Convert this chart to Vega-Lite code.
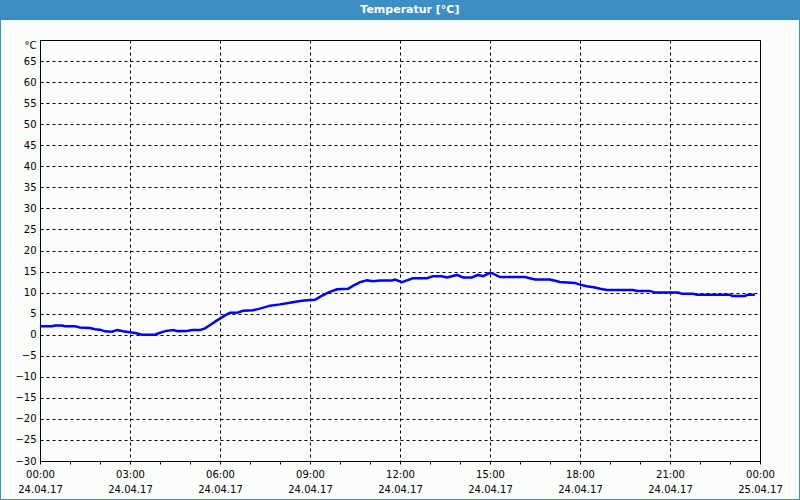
{
  "$schema": "https://vega.github.io/schema/vega-lite/v6.json",
  "width": 720,
  "height": 421,
  "autosize": {"type": "none"},
  "padding": {"left": 40, "top": 40, "right": 40, "bottom": 39},
  "background": "#fbfdfb",
  "config": {
    "view": {"stroke": "#000000", "strokeWidth": 1},
    "font": "DejaVu Sans"
  },
  "data": {
    "values": [
      {"h": 0.0, "t": 2.0}, {"h": 0.4, "t": 2.0}, {"h": 0.5, "t": 2.2}, {"h": 0.73, "t": 2.2},
      {"h": 0.83, "t": 2.0}, {"h": 1.17, "t": 2.0}, {"h": 1.33, "t": 1.7}, {"h": 1.67, "t": 1.6},
      {"h": 1.83, "t": 1.3}, {"h": 2.0, "t": 1.2}, {"h": 2.17, "t": 0.8}, {"h": 2.4, "t": 0.7},
      {"h": 2.57, "t": 1.1}, {"h": 2.77, "t": 0.8}, {"h": 3.0, "t": 0.6}, {"h": 3.17, "t": 0.4},
      {"h": 3.4, "t": 0.0}, {"h": 3.83, "t": 0.0}, {"h": 3.93, "t": 0.3}, {"h": 4.17, "t": 0.85},
      {"h": 4.43, "t": 1.1}, {"h": 4.6, "t": 0.85}, {"h": 4.9, "t": 0.9}, {"h": 5.07, "t": 1.1},
      {"h": 5.33, "t": 1.1}, {"h": 5.5, "t": 1.5}, {"h": 5.67, "t": 2.3}, {"h": 5.9, "t": 3.4},
      {"h": 6.17, "t": 4.6}, {"h": 6.33, "t": 5.2}, {"h": 6.6, "t": 5.3}, {"h": 6.77, "t": 5.7},
      {"h": 7.1, "t": 5.8}, {"h": 7.33, "t": 6.2}, {"h": 7.67, "t": 6.9}, {"h": 8.0, "t": 7.2},
      {"h": 8.33, "t": 7.6}, {"h": 8.67, "t": 8.0}, {"h": 8.9, "t": 8.2}, {"h": 9.17, "t": 8.3},
      {"h": 9.33, "t": 9.0}, {"h": 9.6, "t": 10.0}, {"h": 9.9, "t": 10.8}, {"h": 10.27, "t": 10.9},
      {"h": 10.43, "t": 11.6}, {"h": 10.67, "t": 12.5}, {"h": 10.9, "t": 12.9}, {"h": 11.1, "t": 12.7},
      {"h": 11.33, "t": 12.9}, {"h": 11.73, "t": 12.9}, {"h": 11.83, "t": 13.1}, {"h": 12.07, "t": 12.5},
      {"h": 12.23, "t": 12.9}, {"h": 12.43, "t": 13.4}, {"h": 12.9, "t": 13.4}, {"h": 13.1, "t": 13.9},
      {"h": 13.4, "t": 13.9}, {"h": 13.57, "t": 13.6}, {"h": 13.9, "t": 14.2}, {"h": 14.1, "t": 13.6},
      {"h": 14.4, "t": 13.6}, {"h": 14.6, "t": 14.2}, {"h": 14.77, "t": 13.9}, {"h": 15.0, "t": 14.7},
      {"h": 15.1, "t": 14.5}, {"h": 15.33, "t": 13.7}, {"h": 16.17, "t": 13.7}, {"h": 16.33, "t": 13.4},
      {"h": 16.5, "t": 13.1}, {"h": 17.0, "t": 13.1}, {"h": 17.17, "t": 12.8}, {"h": 17.33, "t": 12.5},
      {"h": 17.83, "t": 12.3}, {"h": 18.0, "t": 11.9}, {"h": 18.23, "t": 11.5}, {"h": 18.5, "t": 11.2},
      {"h": 18.67, "t": 10.9}, {"h": 18.9, "t": 10.6}, {"h": 19.77, "t": 10.6}, {"h": 19.9, "t": 10.4},
      {"h": 20.33, "t": 10.4}, {"h": 20.5, "t": 10.0}, {"h": 21.27, "t": 10.0}, {"h": 21.4, "t": 9.7},
      {"h": 21.77, "t": 9.7}, {"h": 21.9, "t": 9.5}, {"h": 23.0, "t": 9.5}, {"h": 23.07, "t": 9.2},
      {"h": 23.5, "t": 9.2}, {"h": 23.6, "t": 9.5}, {"h": 23.83, "t": 9.5}
    ]
  },
  "layer": [
    {
      "mark": {"type": "line", "color": "#0000ff", "strokeWidth": 2.5, "interpolate": "linear"},
      "encoding": {
        "x": {
          "field": "h",
          "type": "quantitative",
          "scale": {"domain": [0, 24], "nice": false, "zero": false},
          "axis": {
            "title": null,
            "values": [0,1,2,3,4,5,6,7,8,9,10,11,12,13,14,15,16,17,18,19,20,21,22,23,24],
            "tickCount": 100,
            "labelExpr": "datum.value % 3 == 0 ? [(datum.value % 24 < 10 ? '0' : '') + (datum.value % 24) + ':00', datum.value < 24 ? '24.04.17' : '25.04.17'] : ''",
            "labelFlush": false,
            "labelOverlap": false,
            "labelFont": "DejaVu Sans",
            "labelFontSize": 10,
            "labelColor": "#000000",
            "labelPadding": 5,
            "labelLineHeight": 15,
            "labelBaseline": "top",
            "tickSize": 3,
            "tickColor": "#000000",
            "domainColor": "#000000",
            "grid": true,
            "gridColor": "#000000",
            "gridDash": [3, 3],
            "gridOpacity": {"condition": {"test": "datum.value % 3 == 0", "value": 1}, "value": 0}
          }
        },
        "y": {
          "field": "t",
          "type": "quantitative",
          "scale": {"domain": [-30, 70], "nice": false, "zero": false},
          "axis": {
            "title": null,
            "values": [-30,-25,-20,-15,-10,-5,0,5,10,15,20,25,30,35,40,45,50,55,60,65,70],
            "tickCount": 100,
            "labelExpr": "datum.value == 70 ? '°C' : datum.label",
            "labelFont": "DejaVu Sans",
            "labelFontSize": 10,
            "labelColor": "#000000",
            "labelPadding": 4,
            "labelOverlap": false,
            "labelBaseline": {"condition": {"test": "datum.value == 70", "value": "top"}, "value": "middle"},
            "ticks": false,
            "domain": false,
            "grid": true,
            "gridColor": "#000000",
            "gridDash": [3, 3]
          }
        }
      }
    },
    {
      "data": {"values": [{}]},
      "mark": {"type": "rect", "color": "#3c8fc3", "clip": false},
      "encoding": {
        "x": {"datum": -1.3333, "type": "quantitative"},
        "x2": {"datum": 25.3333},
        "y": {"datum": 79.5, "type": "quantitative"},
        "y2": {"datum": 74.75}
      }
    },
    {
      "data": {"values": [{}]},
      "mark": {"type": "rect", "fill": "transparent", "stroke": "#3c8fc3", "strokeWidth": 2, "clip": false},
      "encoding": {
        "x": {"datum": -1.3333, "type": "quantitative"},
        "x2": {"datum": 25.3333},
        "y": {"datum": 79.5, "type": "quantitative"},
        "y2": {"datum": -39.26}
      }
    },
    {
      "data": {"values": [{"label": "Temperatur [°C]"}]},
      "mark": {"type": "text", "color": "#ffffff", "fontWeight": "bold", "fontSize": 11, "font": "DejaVu Sans", "baseline": "middle", "align": "center", "clip": false},
      "encoding": {
        "x": {"datum": 12.33, "type": "quantitative"},
        "y": {"datum": 77.13, "type": "quantitative"},
        "text": {"field": "label"}
      }
    }
  ]
}
